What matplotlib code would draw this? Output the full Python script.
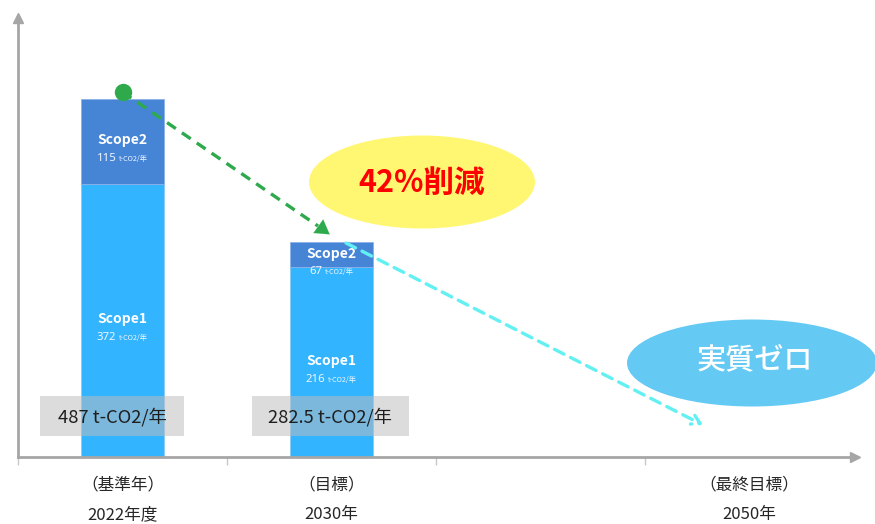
import matplotlib
matplotlib.use("Agg")
import matplotlib.pyplot as plt
from matplotlib.patches import Ellipse, Rectangle
from matplotlib.offsetbox import TextArea, HPacker, AnnotationBbox
import matplotlib.transforms as mtrans

plt.rcParams['font.family'] = ['Noto Sans CJK JP', 'DejaVu Sans']

# ---------------- data ----------------
positions = [0, 1]                      # bar positions (2022, 2030)
scope1_height = [372, 258]              # drawn heights
scope2_height = [115, 35]
scope1_label = ["372", "216"]
scope2_label = ["115", "67"]
total_label = ["487 t-CO2/年", "282.5 t-CO2/年"]
unit = "t-CO2/年"
cat_pos = [0, 1, 3]
cat_top = ["（基準年）", "（目標）", "（最終目標）"]
cat_bottom = ["2022年度", "2030年", "2050年"]
boundaries = [-0.5, 0.5, 1.5, 2.5]
reduction_text = "42%削減"
zero_text = "実質ゼロ"

# ---------------- layout ----------------
W, H = 875, 524
PX_X = 209.0      # pixels per category
PX_Y = 0.735      # pixels per t-CO2
AX_L, AX_R, AX_B, AX_T = 18, 855, 457, 18

fig = plt.figure(figsize=(W / 100, H / 100), dpi=100)
ax = fig.add_axes([AX_L / W, (H - AX_B) / H, (AX_R - AX_L) / W, (AX_B - AX_T) / H])
ax.set_xlim(-0.5, -0.5 + (AX_R - AX_L) / PX_X)
ax.set_ylim(0, (AX_B - AX_T) / PX_Y)

def dx(px):  # pixel x -> data x
    return (px - AX_L) / PX_X - 0.5

def dy(py):  # pixel y -> data y
    return (AX_B - py) / PX_Y

axis_col = '#a6a6a6'
for s in ['top', 'right']:
    ax.spines[s].set_visible(False)
for s in ['left', 'bottom']:
    ax.spines[s].set_color(axis_col)
    ax.spines[s].set_linewidth(2)
ax.plot(1, 0, '>', transform=ax.transAxes, clip_on=False, color=axis_col, ms=7, zorder=6)
ax.plot(0, 1, '^', transform=ax.transAxes, clip_on=False, color=axis_col, ms=7, zorder=6)
ax.set_yticks([])
ax.set_xticks(cat_pos)
ax.set_xticklabels([])
ax.tick_params(axis='x', which='major', length=0)
ax.set_xticks(boundaries, minor=True)
ax.tick_params(axis='x', which='minor', length=6, width=1, color='#c8c8c8', direction='out')

trans = mtrans.blended_transform_factory(ax.transData, ax.transAxes)
for x, t, b in zip(cat_pos, cat_top, cat_bottom):
    ax.text(x, -(485 - AX_B) / (AX_B - AX_T), t, transform=trans, ha='center', va='center',
            fontsize=12, color='#262626')
    ax.text(x, -(515 - AX_B) / (AX_B - AX_T), b, transform=trans, ha='center', va='center',
            fontsize=12, color='#262626')

# ---------------- bars ----------------
c1, c2 = '#33b4ff', '#4684d6'
bw = 0.4
ax.bar(positions, scope1_height, width=bw, color=c1, edgecolor='#8cc8f5', linewidth=0.6, zorder=2)
ax.bar(positions, scope2_height, width=bw, bottom=scope1_height, color=c2,
       edgecolor='#8cb0e8', linewidth=0.6, zorder=2)

def value_label(x, y, num):
    ta1 = TextArea(num, textprops=dict(color='#eef6ff', size=8.2, family=['Noto Sans', 'DejaVu Sans']))
    ta2 = TextArea(unit, textprops=dict(color='#eef6ff', size=5.2))
    box = HPacker(children=[ta1, ta2], align='baseline', pad=0, sep=2)
    ab = AnnotationBbox(box, (x, y), xybox=(0, -17 / 1.389), boxcoords='offset points',
                        frameon=False, box_alignment=(0.5, 0.5), zorder=4)
    ax.add_artist(ab)

for x, h1, h2, l1, l2 in zip(positions, scope1_height, scope2_height, scope1_label, scope2_label):
    y1 = h1 / 2
    y2 = h1 + h2 / 2
    for yc, name, lab in [(y1, "Scope1", l1), (y2, "Scope2", l2)]:
        ax.text(x, yc + 1 / PX_Y, name, ha='center', va='center', color='white', fontsize=10,
                fontweight='bold', zorder=4)
        value_label(x, yc, lab)

# total boxes
box_px = [(40, 184), (252, 409)]
for (l, r), txt in zip(box_px, total_label):
    ax.add_patch(Rectangle((dx(l), dy(436)), dx(r) - dx(l), dy(396) - dy(436),
                           facecolor='#bdbdbd', alpha=0.53, edgecolor='none', zorder=3))
    ax.text((dx(l) + dx(r)) / 2, dy(417), txt, ha='center', va='center', fontsize=13.2,
            color='#1e1e1e', zorder=4)

# ---------------- arrows ----------------
green = '#2eaa4c'
tot = [a + b for a, b in zip(scope1_height, scope2_height)]
ax.plot([positions[0]], [tot[0] + 7 / PX_Y], 'o', color=green, ms=11.5, zorder=6, clip_on=False)
gx0, gy0 = positions[0], tot[0] + 7 / PX_Y
gx1, gy1 = dx(318), dy(226)
ax.plot([gx0, gx1], [gy0, gy1], color=green, lw=2.4, ls=(0, (3.2, 2.2)), zorder=5)
ax.annotate('', xy=(dx(332), dy(236)), xytext=(dx(318), dy(226)),
            arrowprops=dict(arrowstyle='-|>,head_length=1.0,head_width=0.6', color=green, lw=0.1),
            zorder=5)

cyan = '#62f0f2'
cx0, cy0 = dx(346), dy(243)
cx1, cy1 = dx(703), dy(425)
ax.annotate('', xy=(cx1, cy1), xytext=(cx0, cy0),
            arrowprops=dict(arrowstyle='->,head_length=0.6,head_width=0.35', color=cyan, lw=2.4,
                            ls=(0, (3.2, 2.2)), shrinkA=0, shrinkB=0),
            zorder=5)

# ---------------- ellipses ----------------
ax.add_patch(Ellipse((dx(422), dy(182)), 226 / PX_X, 93 / PX_Y, facecolor='#fff772',
                     edgecolor='none', zorder=3, clip_on=False))
ax.text(dx(422), dy(183), reduction_text, ha='center', va='center', color='#ff0000',
        fontsize=22, fontweight='bold', zorder=4)
ax.add_patch(Ellipse((dx(752), dy(363)), 250 / PX_X, 87 / PX_Y, facecolor='#64c9f3',
                     edgecolor='none', zorder=3, clip_on=False))
ax.text(dx(755), dy(360), zero_text, ha='center', va='center', color='white',
        fontsize=21, fontweight='medium', zorder=4)

fig.savefig('out.png', dpi=100)
